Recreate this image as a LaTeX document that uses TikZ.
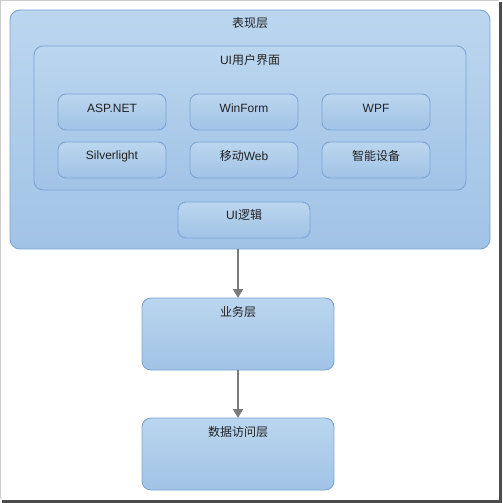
\documentclass[tikz,border=0pt]{standalone}
\usepackage{fontspec}
\setmainfont{Liberation Sans}
\newfontfamily\cjk{Noto Sans CJK SC}
\usetikzlibrary{arrows.meta}
\definecolor{bordc}{HTML}{7BA5D6}
\definecolor{topc}{HTML}{BBD6EF}
\definecolor{botc}{HTML}{A1C3E6}
\definecolor{arrc}{HTML}{7A7A7A}
\definecolor{txtc}{HTML}{222222}
\tikzset{
  box/.style={draw=bordc, line width=0.9pt, top color=topc, bottom color=botc, inner sep=0pt, outer sep=0pt},
  lbl/.style={text=txtc, font=\fontsize{12}{14}\selectfont, inner sep=0pt},
  flow/.style={draw=arrc, line width=2pt, -{Triangle[width=10pt,length=9pt]}}
}
\begin{document}
\begin{tikzpicture}[x=1pt,y=-1pt]
\useasboundingbox (0,0) rectangle (503,503);
\fill[white] (0,0) rectangle (503,503);
\draw[gray!40, line width=0.8pt] (0.4,499) -- (0.4,0.4) -- (499,0.4);
\draw[black!70, line width=3pt] (500.5,2) -- (500.5,501.5) -- (2,501.5);
% presentation layer
\node[box, rounded corners=10pt, minimum width=480pt, minimum height=239pt] (pres) at (250,129.5) {};
\node[lbl] (presL) at (250,23) {\cjk 表现层};
\node[box, rounded corners=9pt, minimum width=432pt, minimum height=144pt] (ui) at (250,118) {};
\node[lbl] (uiL) at (250,60) {UI{\cjk 用户界面}};
\tikzset{small/.style={box, rounded corners=8pt, minimum width=108pt, minimum height=36pt}}
\node[small] (asp) at (112,112) {};
\node[small] (winf) at (244,112) {};
\node[small] (wpf) at (376,112) {};
\node[small] (silv) at (112,160) {};
\node[small] (mweb) at (244,160) {};
\node[small] (smart) at (376,160) {};
\node[lbl] at (112,108) {ASP.NET};
\node[lbl] at (244,108) {WinForm};
\node[lbl] at (376,108) {WPF};
\node[lbl] at (112,156) {Silverlight};
\node[lbl] at (244,156) {{\cjk 移动}Web};
\node[lbl] at (376,156) {\cjk 智能设备};
\node[box, rounded corners=8pt, minimum width=132pt, minimum height=36pt] (uilogic) at (244,220) {};
\node[lbl] at (244,215) {UI{\cjk 逻辑}};
% business layer
\node[box, rounded corners=9pt, minimum width=192pt, minimum height=72pt] (biz) at (238,334) {};
\node[lbl] (bizL) at (238,312) {\cjk 业务层};
% data access layer
\node[box, rounded corners=9pt, minimum width=192pt, minimum height=72pt] (dal) at (238,454) {};
\node[lbl] (dalL) at (238,432) {\cjk 数据访问层};
% arrows
\draw[flow] (biz.north |- pres.south) -- (biz.north);
\draw[flow] (biz.south) -- (dal.north);
\end{tikzpicture}
\end{document}
